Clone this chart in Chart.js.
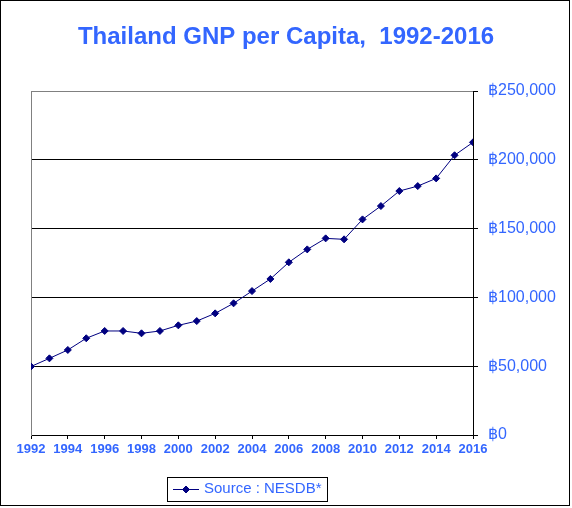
<!DOCTYPE html>
<html>
<head>
<meta charset="utf-8">
<title>Thailand GNP per Capita</title>
<script src="https://cdn.jsdelivr.net/npm/chart.js@4.4.1/dist/chart.umd.min.js"></script>
<style>
    html, body { margin: 0; padding: 0; background: #fff; }
    canvas { display: block; }
</style>
</head>
<body>
<canvas id="gnpChart" width="572" height="508"></canvas>
<script>
// values (baht per person)
const years = [1992, 1993, 1994, 1995, 1996, 1997, 1998, 1999, 2000, 2001, 2002, 2003,
    2004, 2005, 2006, 2007, 2008, 2009, 2010, 2011, 2012, 2013, 2014, 2015, 2016];
const gnpPerCapita = [49800, 55700, 61800, 70300, 75600, 75600, 73900, 75600, 79700, 82800,
    88400, 95700, 104600, 113400, 125500, 134900, 142900, 142200, 156700, 166400,
    177300, 180900, 186500, 203300, 212700];
const yTicks = [0, 50000, 100000, 150000, 200000, 250000];
const seriesLabel = 'Source : NESDB*';
const chartTitle = 'Thailand GNP per Capita,  1992-2016';

const blue = '#3366ff';
const navy = '#000080';
const fontFamily = '"Liberation Sans", Arial, sans-serif';

// white page + thin black frame round the whole picture
const frame = {
    id: 'frame',
    beforeDraw(chart) {
        const ctx = chart.ctx;
        ctx.save();
        ctx.fillStyle = '#fff';
        ctx.fillRect(0, 0, chart.width, chart.height);
        ctx.restore();
    },
    afterDraw(chart) {
        const ctx = chart.ctx;
        ctx.save();
        ctx.strokeStyle = '#000';
        ctx.lineWidth = 1;
        ctx.strokeRect(0.5, 0.5, 569, 505);
        ctx.restore();
    }
};

// boxed legend under the plot, the Excel way
const boxedLegend = {
    id: 'boxedLegend',
    afterDraw(chart) {
        const ctx = chart.ctx;
        const ds = chart.data.datasets[0];
        const midY = 489;
        ctx.save();
        ctx.strokeStyle = '#000';
        ctx.lineWidth = 1;
        ctx.strokeRect(167.5, 477.5, 160, 24);

        ctx.strokeStyle = ds.borderColor;
        ctx.beginPath();
        ctx.moveTo(173, midY + 0.5);
        ctx.lineTo(199, midY + 0.5);
        ctx.stroke();
        ctx.fillStyle = ds.pointBackgroundColor;
        Chart.helpers.drawPoint(ctx, { pointStyle: 'rectRot', radius: 3.5, borderWidth: 1 }, 186, midY + 0.5);
        ctx.fill();

        ctx.fillStyle = blue;
        ctx.font = '15px ' + fontFamily;
        ctx.textBaseline = 'middle';
        ctx.textAlign = 'left';
        ctx.fillText(ds.label, 204, midY);
        ctx.restore();
    }
};

const ctx = document.getElementById('gnpChart').getContext('2d');
new Chart(ctx, {
    type: 'line',
    data: {
        datasets: [{
            label: seriesLabel,
            data: years.map((yr, i) => ({ x: yr, y: gnpPerCapita[i] })),
            borderColor: navy,
            borderWidth: 1,
            backgroundColor: navy,
            pointBackgroundColor: navy,
            pointBorderColor: navy,
            pointStyle: 'rectRot',
            pointRadius: 3.5,
            pointBorderWidth: 1,
            tension: 0,
            fill: false,
            yAxisID: 'y'
        }]
    },
    options: {
        responsive: false,
        animation: false,
        layout: { padding: 0 },
        plugins: {
            legend: { display: false },
            tooltip: { enabled: false },
            title: {
                display: true,
                text: chartTitle,
                color: blue,
                font: { family: fontFamily, size: 24, weight: 'bold', lineHeight: 1.2 },
                padding: { top: 22.6, bottom: 39.6 }
            }
        },
        scales: {
            x: {
                type: 'linear',
                min: years[0],
                max: years[years.length - 1],
                afterFit: (scale) => { scale.height = 73; },
                ticks: {
                    stepSize: 2,
                    color: blue,
                    padding: 3,
                    maxRotation: 0,
                    font: { family: fontFamily, size: 13, weight: 'bold' },
                    callback: (v) => String(v)
                },
                grid: { drawOnChartArea: false, drawTicks: true, tickLength: 4, tickColor: '#000' },
                border: { display: true, color: '#000', width: 1 }
            },
            // only there to give the plot its grey left edge
            yl: {
                type: 'linear',
                position: 'left',
                display: true,
                afterFit: (scale) => { scale.width = 31; },
                ticks: { display: false },
                grid: { drawOnChartArea: false, drawTicks: false },
                border: { display: true, color: '#808080', width: 1 }
            },
            y: {
                type: 'linear',
                position: 'right',
                min: yTicks[0],
                max: yTicks[yTicks.length - 1],
                afterFit: (scale) => { scale.width = 99; },
                afterBuildTicks: (scale) => { scale.ticks = yTicks.map(v => ({ value: v })); },
                ticks: {
                    color: blue,
                    padding: 10,
                    font: { family: fontFamily, size: 16 },
                    callback: (v) => '\u0E3F' + v.toLocaleString('en-US')
                },
                grid: {
                    color: (c) => (c.tick && c.tick.value === 250000 ? '#808080' : '#000'),
                    tickColor: '#000',
                    lineWidth: 1,
                    tickLength: 5
                },
                border: { display: true, color: '#000', width: 1 }
            }
        }
    },
    plugins: [frame, boxedLegend]
});
</script>
</body>
</html>
